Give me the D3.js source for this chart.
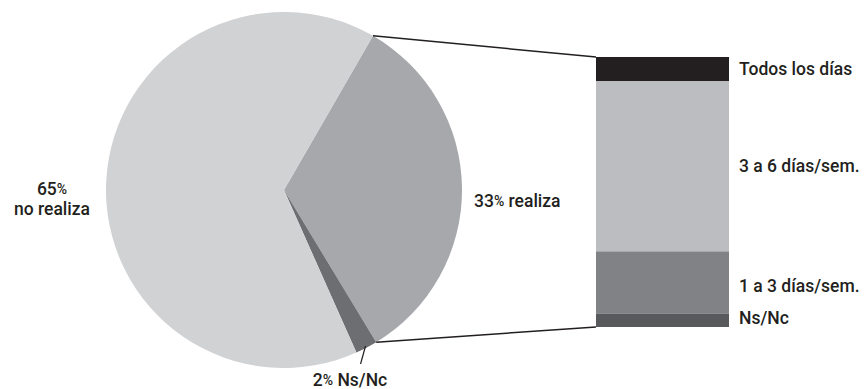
<!DOCTYPE html>
<html><head><meta charset="utf-8">
<script src="https://cdn.jsdelivr.net/npm/d3@7"></script>
<style>
body{margin:0;background:#fff;}
text{font-family:Roboto,"DejaVu Sans",sans-serif;fill:#231f20;font-weight:500;}
</style></head>
<body><svg id="c" width="866" height="389"></svg>
<script>
// Pie data
const pieCategories = ["realiza", "Ns/Nc", "no realiza"];
const pieValues = [33, 2, 65];
// Bar (breakdown of "realiza")
const barCategories = ["Todos los días", "3 a 6 días/sem.", "1 a 3 días/sem.", "Ns/Nc"];
const barValues = [9, 63, 23, 5];

const pieColors = ["#a7a8ab", "#6d6e71", "#d1d2d4"];
const barColors = ["#231f20", "#bcbdc0", "#808285", "#58595b"];

const svg = d3.select("#c");
const cx = 284, cy = 190, R = 178;
const startA = 30 * Math.PI / 180;
const FS = 17.5;

const pie = d3.pie().sort(null).value(d => d)
  .startAngle(startA).endAngle(startA + 2 * Math.PI);
const arcs = pie(pieValues);
const arc = d3.arc().innerRadius(0).outerRadius(R);

const g = svg.append("g").attr("transform", `translate(${cx},${cy})`);
g.selectAll("path").data(arcs).join("path")
  .attr("d", arc).attr("fill", (d, i) => pieColors[i]);

// Bar
const bx = 596, bw = 133, by0 = 57, by1 = 327;
const y = d3.scaleLinear().domain([0, d3.sum(barValues)]).range([by0, by1]);
let cum = 0;
const segs = barValues.map((v, i) => { const s = {i, v, a: cum, b: cum + v}; cum += v; return s; });
svg.selectAll("rect.seg").data(segs).join("rect").attr("class", "seg")
  .attr("x", bx).attr("width", bw)
  .attr("y", d => y(d.a)).attr("height", d => y(d.b) - y(d.a))
  .attr("fill", d => barColors[d.i]);

const labOff = [0, 0, 4, -2];
svg.selectAll("text.bl").data(segs).join("text").attr("class", "bl")
  .attr("x", bx + bw + 10)
  .attr("y", d => (y(d.a) + y(d.b)) / 2 + labOff[d.i])
  .attr("dominant-baseline", "central")
  .attr("font-size", FS)
  .text(d => barCategories[d.i]);

// Connector lines
const real = arcs[0];
const p1 = [cx + R * Math.sin(real.startAngle), cy - R * Math.cos(real.startAngle)];
const p2 = [cx + R * Math.sin(real.endAngle), cy - R * Math.cos(real.endAngle)];
svg.append("line").attr("x1", p1[0]).attr("y1", p1[1]).attr("x2", bx).attr("y2", by0)
  .attr("stroke", "#231f20").attr("stroke-width", 1.5);
svg.append("line").attr("x1", p2[0]).attr("y1", p2[1]).attr("x2", bx).attr("y2", by1)
  .attr("stroke", "#231f20").attr("stroke-width", 1.5);

function pctLabel(sel, pctTxt, rest, fs) {
  sel.append("tspan").text(pctTxt.replace("%", ""));
  sel.append("tspan").attr("font-size", fs * 0.8).text("%");
  if (rest) sel.append("tspan").text(rest);
}

// 33% realiza
const t1 = svg.append("text").attr("x", 474).attr("y", 201).attr("dominant-baseline", "central")
  .attr("font-size", FS);
pctLabel(t1, "33%", " realiza", FS);

// 65% no realiza
const t2 = svg.append("text").attr("x", 52).attr("y", 189).attr("text-anchor", "middle")
  .attr("dominant-baseline", "central").attr("font-size", FS);
pctLabel(t2, "65%", "", FS);
svg.append("text").attr("x", 52).attr("y", 209).attr("text-anchor", "middle")
  .attr("dominant-baseline", "central").attr("font-size", FS).text("no realiza");

// 2% Ns/Nc
const ns = arcs[1];
const mid = (ns.startAngle + ns.endAngle) / 2;
const q = [cx + (R - 2) * Math.sin(mid), cy - (R - 2) * Math.cos(mid)];
svg.append("line").attr("x1", q[0]).attr("y1", q[1]).attr("x2", q[0] - 5).attr("y2", q[1] + 18)
  .attr("stroke", "#231f20").attr("stroke-width", 1.2);
const t3 = svg.append("text").attr("x", 350).attr("y", 380).attr("text-anchor", "middle")
  .attr("dominant-baseline", "central").attr("font-size", FS);
pctLabel(t3, "2%", " Ns/Nc", FS);
</script></body></html>
